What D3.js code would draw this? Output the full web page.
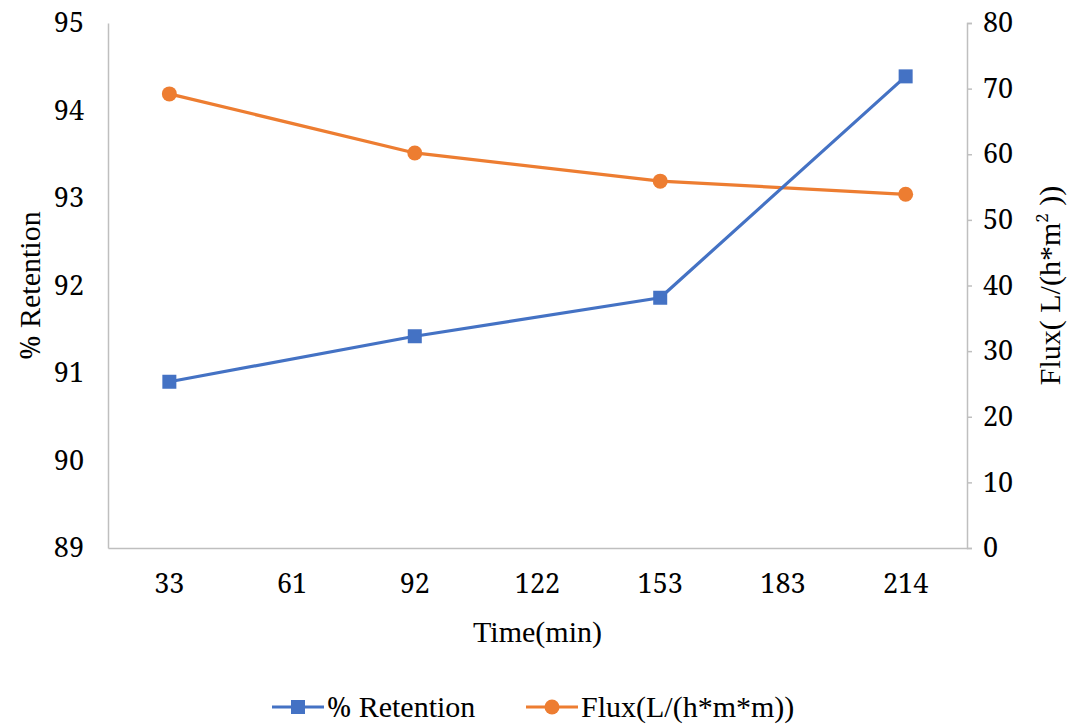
<!DOCTYPE html>
<html>
<head>
<meta charset="utf-8">
<script src="https://cdn.jsdelivr.net/npm/d3@7"></script>
<style>
  html, body { margin: 0; padding: 0; background: #fff; }
  svg text { fill: #000; }
</style>
</head>
<body>
<svg id="chart" width="1077" height="726"></svg>
<script>
// ---- data ----
const categories = ["33", "61", "92", "122", "153", "183", "214"];
const retention = [90.9, null, 91.42, null, 91.86, null, 94.39];
const flux = [69.2, null, 60.2, null, 55.9, null, 53.9];
const leftTicks = [89, 90, 91, 92, 93, 94, 95];
const rightTicks = [0, 10, 20, 30, 40, 50, 60, 70, 80];
const seriesNames = ["Retention", "Flux(L/(h*m*m))"];

// ---- layout ----
const svg = d3.select("#chart");
const pL = 108, pR = 967, pT = 23, pB = 548;
const axisColor = "#BFBFBF";
const blue = "#4472C4", orange = "#ED7D31";
const fontSize = 30;
const FF = "Liberation Serif";
const NF = "Noto Serif";   // serif digits / percent sign
const numSize = 27;

const x = d3.scaleBand().domain(categories).range([pL, pR]);
const yL = d3.scaleLinear().domain([89, 95]).range([pB, pT]);
const yR = d3.scaleLinear().domain([0, 80]).range([pB, pT]);
const cx = c => x(c) + x.bandwidth() / 2;

function styleAxis(g) {
  g.attr("font-family", NF).attr("font-size", numSize);
  g.select(".domain").attr("stroke", axisColor).attr("stroke-width", 1.5);
  g.selectAll(".tick line").attr("stroke", axisColor).attr("stroke-width", 1.5);
  g.selectAll("text").attr("font-family", NF).attr("fill", "#000");
}

// left axis
const gL = svg.append("g").attr("transform", `translate(${pL},0)`)
  .call(d3.axisLeft(yL).tickValues(leftTicks).tickSize(0).tickPadding(24).tickFormat(d3.format("d")));
styleAxis(gL);

// right axis
const gR = svg.append("g").attr("transform", `translate(${pR},0)`)
  .call(d3.axisRight(yR).tickValues(rightTicks).tickSizeInner(5).tickSizeOuter(5).tickPadding(11).tickFormat(d3.format("d")));
styleAxis(gR);

// bottom axis
const gB = svg.append("g").attr("transform", `translate(0,${pB})`)
  .call(d3.axisBottom(x).tickSize(0).tickPadding(26));
styleAxis(gB);

// lines
function drawSeries(vals, scale, color, marker) {
  const pts = categories.map((c, i) => ({c, v: vals[i]})).filter(d => d.v != null);
  const line = d3.line().x(d => cx(d.c)).y(d => scale(d.v));
  svg.append("path").datum(pts).attr("d", line)
    .attr("fill", "none").attr("stroke", color).attr("stroke-width", 3.2).attr("stroke-linejoin", "round");
  if (marker === "square") {
    svg.selectAll(null).data(pts).enter().append("rect")
      .attr("x", d => cx(d.c) - 7).attr("y", d => scale(d.v) - 7)
      .attr("width", 14).attr("height", 14).attr("fill", color);
  } else {
    svg.selectAll(null).data(pts).enter().append("circle")
      .attr("cx", d => cx(d.c)).attr("cy", d => scale(d.v)).attr("r", 7.5).attr("fill", color);
  }
}
drawSeries(flux, yR, orange, "circle");
drawSeries(retention, yL, blue, "square");

// helper: "% Retention" with a serif percent sign
function percentLabel(sel, name) {
  sel.append("tspan").attr("font-family", NF).attr("font-size", numSize).text("%");
  sel.append("tspan").attr("font-family", FF).attr("font-size", fontSize).text(" " + name);
}

// axis titles
const lt = svg.append("text").attr("transform", `translate(40,${(pT + pB) / 2}) rotate(-90)`)
  .attr("text-anchor", "middle").attr("font-family", FF).attr("font-size", fontSize);
percentLabel(lt, seriesNames[0]);

const rt = svg.append("text").attr("transform", `translate(1060,${(pT + pB) / 2}) rotate(-90)`)
  .attr("text-anchor", "middle").attr("font-family", FF).attr("font-size", fontSize);
rt.append("tspan").text("Flux( L/(h*m");
rt.append("tspan").attr("dy", -12).attr("font-family", NF).attr("font-size", 17).text("2");
rt.append("tspan").attr("dy", 12).text(" ))");

svg.append("text").attr("x", (pL + pR) / 2).attr("y", 642)
  .attr("text-anchor", "middle").attr("font-family", FF).attr("font-size", fontSize).text("Time(min)");

// legend
const legY = 707;
const leg = [
  {name: seriesNames[0], pct: true, color: blue, marker: "square", x0: 272},
  {name: seriesNames[1], pct: false, color: orange, marker: "circle", x0: 526}
];
leg.forEach(l => {
  svg.append("line").attr("x1", l.x0).attr("x2", l.x0 + 52).attr("y1", legY).attr("y2", legY)
    .attr("stroke", l.color).attr("stroke-width", 3.2);
  if (l.marker === "square") {
    svg.append("rect").attr("x", l.x0 + 26 - 7).attr("y", legY - 7).attr("width", 14).attr("height", 14).attr("fill", l.color);
  } else {
    svg.append("circle").attr("cx", l.x0 + 26).attr("cy", legY).attr("r", 7.5).attr("fill", l.color);
  }
  const t = svg.append("text").attr("x", l.x0 + 55).attr("y", legY + 10).attr("font-family", FF).attr("font-size", fontSize);
  if (l.pct) percentLabel(t, l.name); else t.text(l.name);
});
</script>
</body>
</html>
